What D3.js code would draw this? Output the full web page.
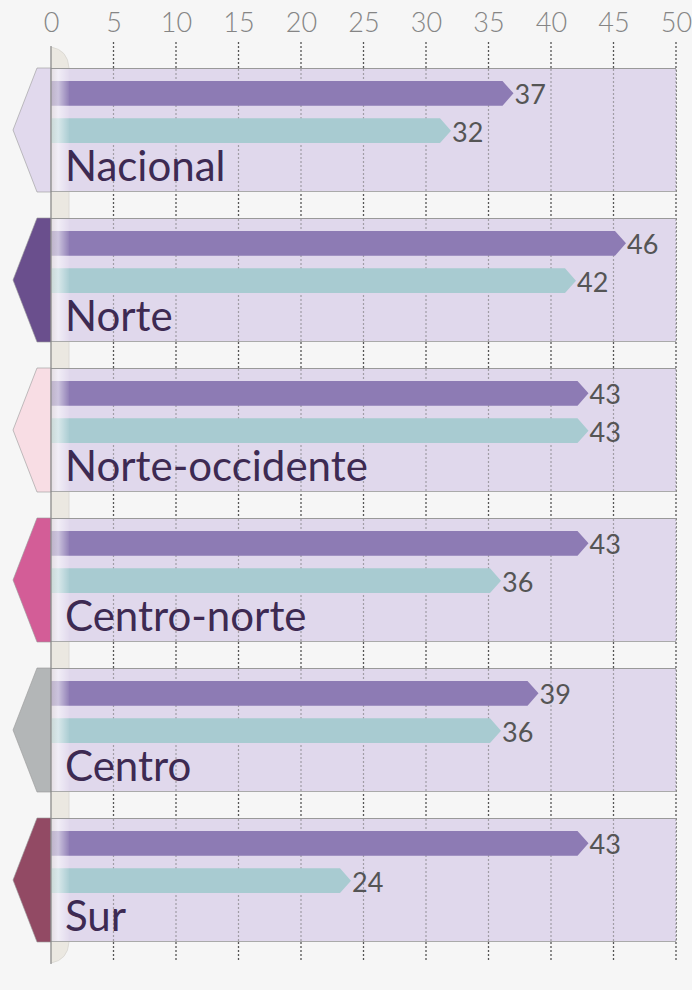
<!DOCTYPE html>
<html><head><meta charset="utf-8">
<script src="https://cdn.jsdelivr.net/npm/d3@7"></script>
<style>html,body{margin:0;padding:0;background:#f6f6f6;}svg{display:block;}</style>
</head><body>
<div id="chart"></div>
<script>
const regions = ["Nacional","Norte","Norte-occidente","Centro-norte","Centro","Sur"];
const seriesA = [37,46,43,43,39,43];
const seriesB = [32,42,43,36,36,24];
const markerColors = ["#e1d9ed","#6a4f8d","#f8dde4","#d35d97","#b3b6b7","#924a64"];
const ticks = [0,5,10,15,20,25,30,35,40,45,50];

const W = 692, H = 990;
const svg = d3.select("#chart").append("svg").attr("width", W).attr("height", H);
svg.append("rect").attr("width", W).attr("height", H).attr("fill", "#f6f6f6");

const x = d3.scaleLinear().domain([0,50]).range([51,676]);
const y = d3.scaleBand().domain(regions).range([68,942]).paddingInner(26/150).paddingOuter(0);
const sub = d3.scaleBand().domain(["a","b"]).range([13,75]).paddingInner(0.34);
const colA = "#8d7bb4", colB = "#a8cbd1";

const defs = svg.append("defs");
const g1 = defs.append("linearGradient").attr("id","pole").attr("x1","0").attr("x2","1").attr("y1","0").attr("y2","0");
g1.append("stop").attr("offset","0").attr("stop-color","#e6e2da").attr("stop-opacity",0.55);
g1.append("stop").attr("offset","0.4").attr("stop-color","#ffffff").attr("stop-opacity",0.55);
g1.append("stop").attr("offset","1").attr("stop-color","#ffffff").attr("stop-opacity",0.05);

// grid lines (dark, behind)
const grid = svg.append("g");
grid.selectAll("line").data(ticks.filter(d=>d>0)).join("line")
  .attr("x1", d=>x(d)).attr("x2", d=>x(d)).attr("y1", 42).attr("y2", 962)
  .attr("stroke", "#555").attr("stroke-width", 1.3).attr("stroke-dasharray","2,2");

// axis labels
const axis = d3.axisTop(x).tickValues(ticks).tickSize(0).tickPadding(0).tickFormat(d3.format("d"));
const ax = svg.append("g").attr("transform","translate(0,32)").call(axis);
ax.select(".domain").remove();
ax.selectAll("text").attr("font-family","Lato").attr("font-weight",300).attr("font-size",27).attr("fill","#858585").attr("dy",0);

// pole base (cream)
const poleD = `M51,47 Q68,50 69,68 L69,942 Q68,960 51,963 Z`;
svg.append("path").attr("d", poleD).attr("fill","#ebe8e1").attr("stroke","#d8d5d0").attr("stroke-width",0.8);

// bands
const band = svg.append("g").selectAll("g").data(regions).join("g")
  .attr("transform", d=>`translate(0,${y(d)})`);
band.append("rect").attr("x", x(0)).attr("width", x(50)-x(0)).attr("height", y.bandwidth())
  .attr("fill", "#e0d8ec");
band.append("line").attr("x1", x(0)).attr("x2", x(50)).attr("y1",0.5).attr("y2",0.5).attr("stroke","#999");
band.append("line").attr("x1", x(0)).attr("x2", x(50)).attr("y1",y.bandwidth()-0.5).attr("y2",y.bandwidth()-0.5).attr("stroke","#aaa");
// light grid inside bands
band.selectAll("line.g").data(ticks.filter(d=>d>0)).join("line").attr("class","g")
  .attr("x1", d=>x(d)).attr("x2", d=>x(d)).attr("y1", 1).attr("y2", y.bandwidth()-1)
  .attr("stroke", "#777").attr("stroke-opacity",0.6).attr("stroke-width", 1.2).attr("stroke-dasharray","2,2");

// left markers
const bh = y.bandwidth();
band.append("path").attr("d", `M${x(0)},0 L37,0 L13,${bh/2} L37,${bh} L${x(0)},${bh} Z`)
  .attr("fill", (d,i)=>markerColors[i]).attr("stroke","#999").attr("stroke-width",0.6);

// bars with arrow tips
function arrow(v, h){
  const x0 = x(0), x1 = x(v), t = 11;
  return `M${x0},0 L${x1-t},0 L${x1},${h/2} L${x1-t},${h} L${x0},${h} Z`;
}
const series = [{k:"a", vals:seriesA, c:colA},{k:"b", vals:seriesB, c:colB}];
series.forEach(s=>{
  band.append("path").attr("transform", `translate(0,${sub(s.k)})`)
    .attr("d", (d,i)=>arrow(s.vals[i], sub.bandwidth())).attr("fill", s.c);
  band.append("text").attr("x", (d,i)=>x(s.vals[i])+1).attr("y", sub(s.k)+sub.bandwidth()/2+11)
    .attr("font-family","Lato").attr("font-size",27).attr("fill","#555").text((d,i)=>s.vals[i]);
});

// pole overlay on bands
band.append("rect").attr("x",51).attr("width",18).attr("y",1).attr("height",bh-2).attr("fill","url(#pole)");
svg.append("line").attr("x1",51).attr("x2",51).attr("y1",46).attr("y2",964).attr("stroke","#8a8a8a").attr("stroke-width",1.2);

// region labels
band.append("text").attr("x", 65).attr("y", 113).attr("font-family","Lato").attr("font-size",42)
  .attr("fill","#3d2a52").text(d=>d);
</script>
</body></html>
